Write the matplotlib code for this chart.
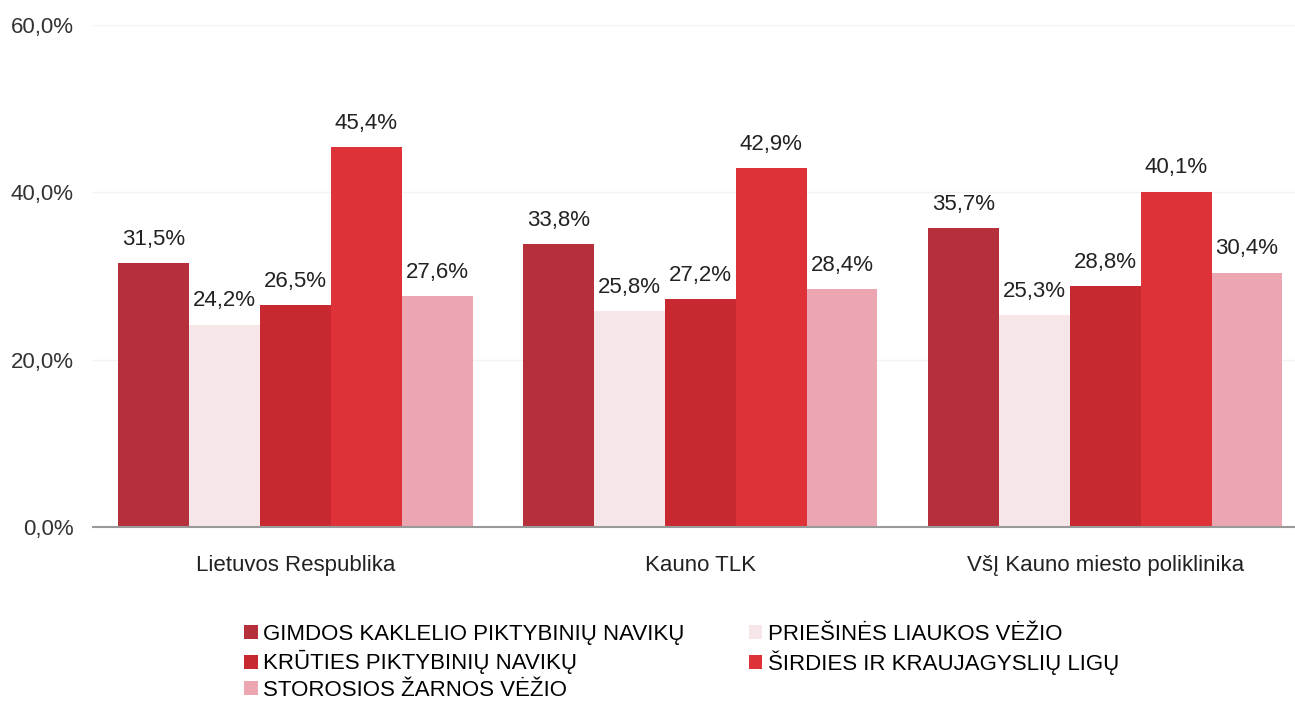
import numpy as np
import matplotlib.pyplot as plt

plt.rcParams['font.family'] = ['Liberation Sans', 'DejaVu Sans']

# Duomenys
categories = ['Lietuvos Respublika', 'Kauno TLK', 'VšĮ Kauno miesto poliklinika']
series = ['GIMDOS KAKLELIO PIKTYBINIŲ NAVIKŲ',
          'PRIEŠINĖS LIAUKOS VĖŽIO',
          'KRŪTIES PIKTYBINIŲ NAVIKŲ',
          'ŠIRDIES IR KRAUJAGYSLIŲ LIGŲ',
          'STOROSIOS ŽARNOS VĖŽIO']
gimdos = [31.5, 33.8, 35.7]
priesines = [24.2, 25.8, 25.3]
krupties = [26.5, 27.2, 28.8]
sirdies = [45.4, 42.9, 40.1]
storosios = [27.6, 28.4, 30.4]
values = [gimdos, priesines, krupties, sirdies, storosios]
colors = ['#b5303a', '#f7e6e8', '#c8282f', '#df3138', '#eba6b2']

fig = plt.figure(figsize=(12.95, 7.05), dpi=100)
ax = fig.add_axes([0.0718, 0.2525, 0.938, 0.712])

x = np.arange(len(categories))
w = 0.175
handles = []
for i, (vals, col, name) in enumerate(zip(values, colors, series)):
    pos = x + (i - 2) * w
    b = ax.bar(pos, vals, w, color=col, label=name, zorder=2)
    handles.append(b)
    for p, v in zip(pos, vals):
        ax.text(p, v + 1.6, f'{v:.1f}%'.replace('.', ','), ha='center', va='bottom',
                fontsize=16, color='#222222')

ax.set_xlim(-0.5, 2.5)
ax.set_ylim(0, 60)
ax.set_yticks([0, 20, 40, 60])
ax.set_yticklabels(['0,0%', '20,0%', '40,0%', '60,0%'], fontsize=16, color='#333333')
ax.set_xticks(x)
ax.set_xticklabels(categories, fontsize=16, color='#222222')
ax.tick_params(axis='both', length=0)
ax.tick_params(axis='y', pad=14)
ax.tick_params(axis='x', pad=20)
for s in ['top', 'right', 'left']:
    ax.spines[s].set_visible(False)
ax.spines['bottom'].set_color('#999999')
ax.spines['bottom'].set_linewidth(1.5)
ax.yaxis.grid(True, color='#f3f3f3', linewidth=1, zorder=0)

order = [0, 2, 4, 1, 3]
fig.legend([handles[i] for i in order], [series[i] for i in order],
           loc='upper left', bbox_to_anchor=(0.18, 0.131), ncol=2, frameon=False,
           fontsize=16, handlelength=0.6, handleheight=0.6, handletextpad=0.25,
           labelspacing=0.25, columnspacing=2.9, borderpad=0)

fig.savefig('out.png', dpi=100)
